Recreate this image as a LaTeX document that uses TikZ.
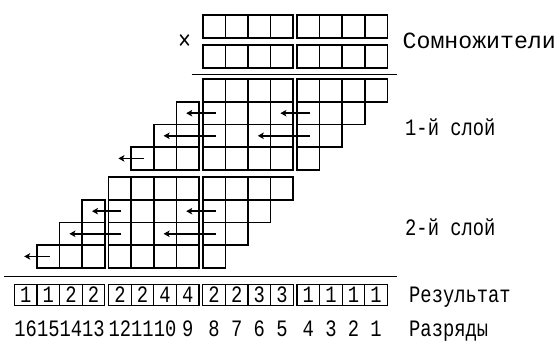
\documentclass[tikz,border=0pt]{standalone}
\usepackage{fontspec}
\setmainfont{Liberation Mono}[FakeStretch=0.8]
\newfontfamily\widemono{Liberation Mono}
\usetikzlibrary{arrows.meta}

\tikzset{
  cell/.style={draw=black, line width=1.7pt, minimum width=22.6pt, minimum height=22.6pt,
               inner sep=0pt, outer sep=0pt, anchor=north west},
  mcell/.style={cell, minimum height=23pt},
  rcell/.style={cell, line width=1.3pt, minimum height=21pt},
  carry/.style={line width=1.6pt, -{Stealth[length=6pt,width=6.5pt,inset=1.5pt]}},
  rule/.style={line width=1.6pt},
  txt/.style={inner sep=0pt, font=\fontsize{23.5}{26}\selectfont},
  lbl/.style={txt, anchor=base west},
  digit/.style={txt, anchor=base},
}

% left edge of column #1 (1 = least significant), groups of four with a gap
\newcommand{\colleft}[1]{297-94.2*int((#1-1)/4)+22.6*(3-mod(#1-1,4))}

\begin{document}
\begin{tikzpicture}[x=1pt, y=-1pt]
  \useasboundingbox (0,0) rectangle (560,344);

  % the two factors
  \foreach \c in {1,...,8} {
    \pgfmathsetmacro\xl{\colleft{\c}}
    \node[mcell] (a\c) at (\xl,14.7) {};
    \node[mcell] (b\c) at (\xl,45.3) {};
  }
  \node[txt, font=\fontsize{27}{27}\selectfont] (times) at (184.5,41.5) {×};
  \draw[rule] (191.7,74.7) -- (396.7,74.7);

  % partial products: rows 0-3 form the first layer, rows 4-7 the second
  \foreach \r in {0,...,7} {
    \pgfmathsetmacro\yt{\r<4 ? 79.3+22.6*\r : 177.3+22.6*(\r-4)}
    \pgfmathtruncatemacro\cs{\r+1}
    \pgfmathtruncatemacro\ce{\r+8}
    \foreach \c in {\cs,...,\ce} {
      \pgfmathsetmacro\xl{\colleft{\c}}
      \node[cell] (p\r-\c) at (\xl,\yt) {};
    }
  }

  % carries between digit groups
  \coordinate (q3-12) at ([xshift=-22.6pt]p3-11.center);
  \coordinate (q7-16) at ([xshift=-22.6pt]p7-15.center);
  \draw[carry] ([xshift=1.5pt]p1-4.center) -- ([xshift=-1.5pt]p1-5.center);
  \draw[carry] ([xshift=1.5pt]p1-8.center) -- ([xshift=-1.5pt]p1-9.center);
  \draw[carry] ([xshift=1.5pt]p2-4.center) -- ([xshift=-1.5pt]p2-6.center);
  \draw[carry] ([xshift=1.5pt]p2-8.center) -- ([xshift=-1.5pt]p2-10.center);
  \draw[carry] ([xshift=1.5pt]p3-11.center) -- ([xshift=-1.5pt]q3-12);
  \draw[carry] ([xshift=1.5pt]p5-8.center) -- ([xshift=-1.5pt]p5-9.center);
  \draw[carry] ([xshift=1.5pt]p5-12.center) -- ([xshift=-1.5pt]p5-13.center);
  \draw[carry] ([xshift=1.5pt]p6-8.center) -- ([xshift=-1.5pt]p6-10.center);
  \draw[carry] ([xshift=1.5pt]p6-12.center) -- ([xshift=-1.5pt]p6-14.center);
  \draw[carry] ([xshift=1.5pt]p7-15.center) -- ([xshift=-1.5pt]q7-16);

  \draw[rule] (4,276.5) -- (396.5,276.5);

  % result digits and digit positions
  \foreach \c/\v in {1/1,2/1,3/1,4/1,5/3,6/3,7/2,8/2,9/4,10/4,11/2,12/2,13/2,14/2,15/1,16/1} {
    \pgfmathsetmacro\xl{\colleft{\c}}
    \node[rcell] (r\c) at (\xl,284.5) {};
    \node[digit] (rv\c) at ([yshift=3pt]r\c.south) {\v};
    \node[digit] (d\c) at ([yshift=-31pt]r\c.south) {\c};
  }

  % labels
  \node[lbl, font=\widemono\fontsize{23.2}{26}\selectfont] (factors) at (402.5,48.5) {Сомножители};
  \node[lbl] (layer1) at (405,136) {1-й слой};
  \node[lbl] (layer2) at (405,236) {2-й слой};
  \node[lbl] (result) at (409,302.5) {Результат};
  \node[lbl] (pos) at (409,336.5) {Разряды};
\end{tikzpicture}
\end{document}
